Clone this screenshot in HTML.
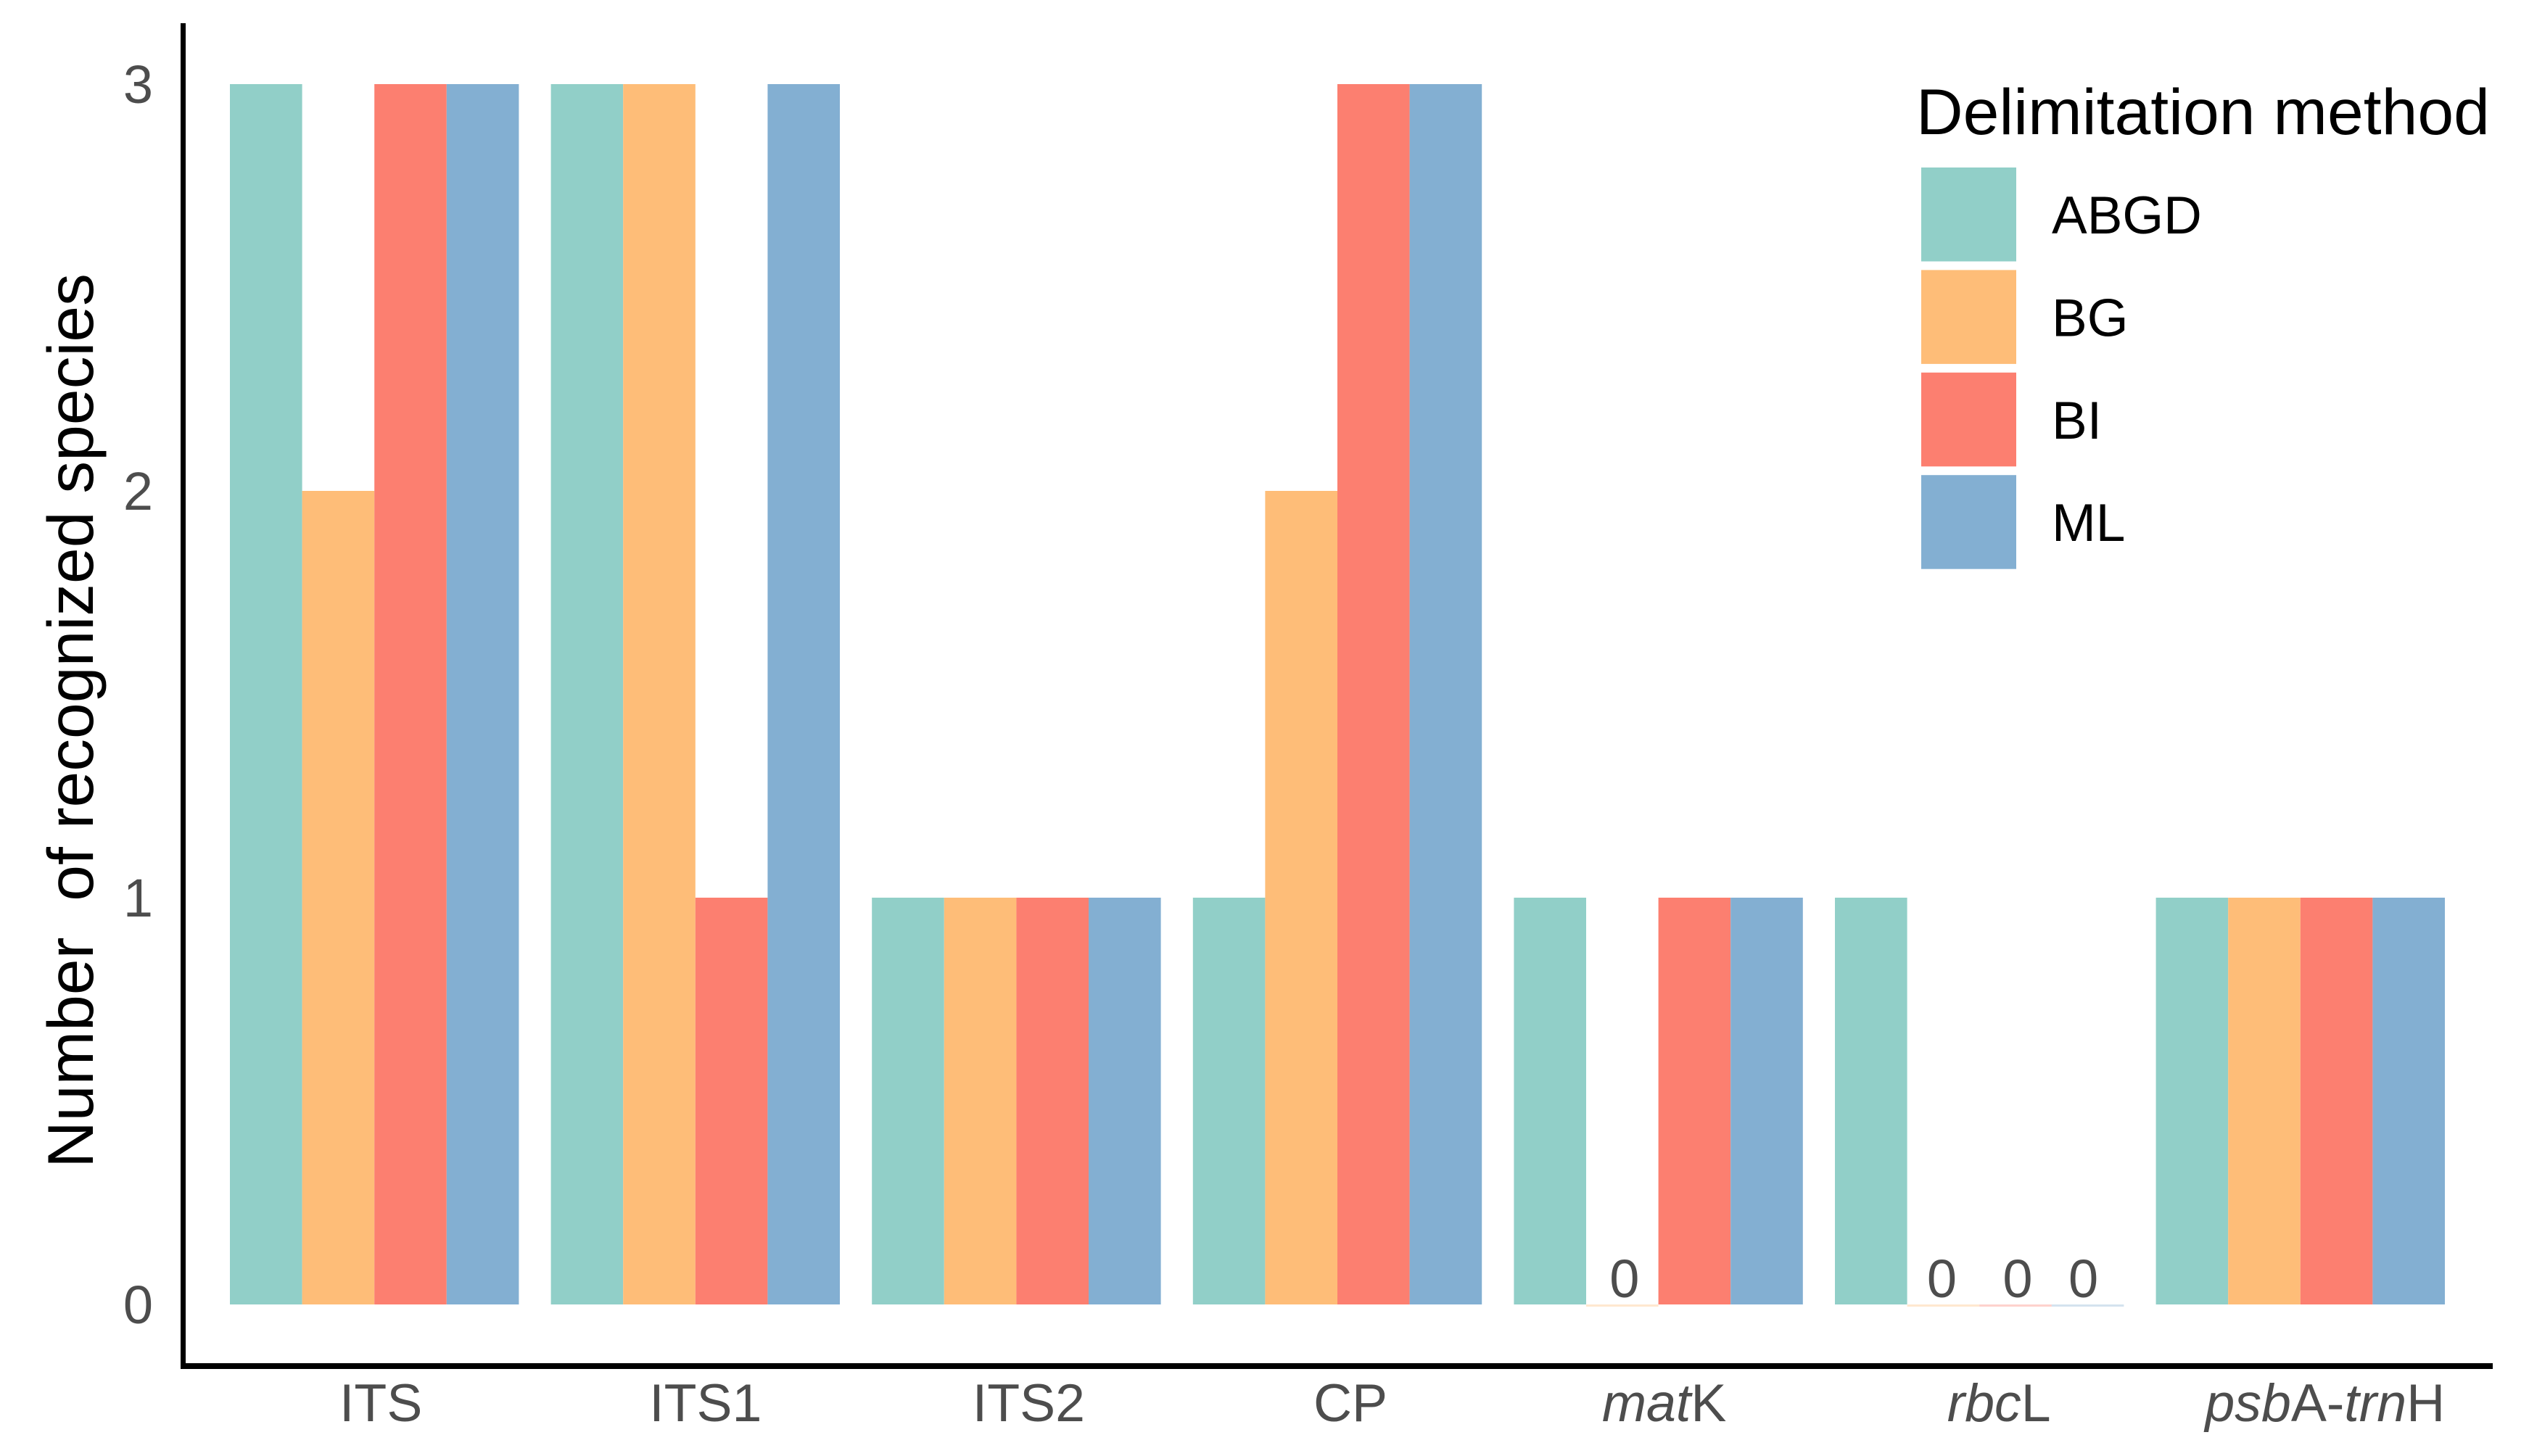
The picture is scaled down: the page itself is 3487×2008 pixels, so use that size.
<!DOCTYPE html>
<html lang="en">
<head>
<meta charset="utf-8">
<title>Number of recognized species by marker and delimitation method</title>
<style>
  html, body { margin: 0; padding: 0; background: #ffffff; }
  svg { display: block; font-family: "Liberation Sans", Arial, sans-serif; }
</style>
</head>
<body>
<svg id="chart" xmlns="http://www.w3.org/2000/svg" width="3487" height="2008" viewBox="0 0 3487 2008">
  <rect x="0" y="0" width="3487" height="2008" fill="#ffffff"/>
  <g id="bars"></g>
  <g id="zero-labels" font-size="74" fill="#4d4d4d" text-anchor="middle"></g>
  <rect x="249" y="32" width="7" height="1856" fill="#000000"/>
  <rect x="249" y="1880" width="3188" height="8" fill="#000000"/>
  <g id="y-ticks" font-size="74" fill="#4d4d4d" text-anchor="end"></g>
  <g id="x-ticks" font-size="73.5" fill="#4d4d4d" text-anchor="middle"></g>
  <text transform="translate(128 994) rotate(-90)" font-size="89.5" fill="#000000" text-anchor="middle" xml:space="preserve">Number  of recognized species</text>
  <g id="legend">
    <text x="2642" y="185" font-size="89.5" fill="#000000">Delimitation method</text>
  </g>
</svg>
<script>
const categories = ['ITS', 'ITS1', 'ITS2', 'CP', 'matK', 'rbcL', 'psbA-trnH'];
const seriesNames = ['ABGD', 'BG', 'BI', 'ML'];
const abgdValues = [3, 3, 1, 1, 1, 1, 1];
const bgValues = [2, 3, 1, 2, 0, 0, 1];
const biValues = [3, 1, 1, 3, 1, 0, 1];
const mlValues = [3, 3, 1, 3, 1, 0, 1];
const yTickLabels = [0, 1, 2, 3];

const seriesValues = [abgdValues, bgValues, biValues, mlValues];
const seriesColors = ['#91cfc8', '#febd78', '#fc7f70', '#83afd2'];
const NS = 'http://www.w3.org/2000/svg';

function yScale(v) {
  return 1799 - v * (1799 - 116) / 3;
}
function groupLeft(i) {
  return 317 + i * 442.6;
}
function barLeft(i, s) {
  return groupLeft(i) + s * 99.6;
}
function make(tag, attrs, parent) {
  const el = document.createElementNS(NS, tag);
  Object.keys(attrs).forEach(function (k) { el.setAttribute(k, attrs[k]); });
  parent.appendChild(el);
  return el;
}

const barsLayer = document.getElementById('bars');
const zeroLayer = document.getElementById('zero-labels');
const yTicksLayer = document.getElementById('y-ticks');
const xTicksLayer = document.getElementById('x-ticks');
const legendLayer = document.getElementById('legend');

function drawBars() {
  /* small hand-placed shifts of the zero labels seen in the reference */
  const zeroNudge = [3, -2, 3, -6];
  let zeroCount = 0;
  seriesValues.forEach(function (values, s) {
    values.forEach(function (v, i) {
      const x = barLeft(i, s);
      const top = yScale(v);
      if (v > 0) {
        const bar = make('rect', { x: x, y: top, width: 99.6, height: yScale(0) - top, fill: seriesColors[s] }, barsLayer);
        
        
      } else {
        const stub = make('rect', { x: x, y: yScale(0), width: 99.6, height: 3, fill: seriesColors[s], opacity: 0.35 }, barsLayer);
        
        
        const shift = zeroNudge[zeroCount % zeroNudge.length];
        zeroCount += 1;
        const label = make('text', { x: x + 49.8 + shift, y: yScale(0) - 10 }, zeroLayer);
        label.textContent = String(v);
        
        
      }
    });
  });
}

function drawYTicks() {
  yTickLabels.forEach(function (t) {
    const label = make('text', { x: 211, y: yScale(t) + 26 }, yTicksLayer);
    label.textContent = String(t);
    
    
  });
}

function drawXTicks() {
  /* hand-placed label offsets seen in the reference, relative to each group's centre */
  const nudge = [9, 14, 17, 18, 8, 27, 34];
  categories.forEach(function (name, i) {
    const label = make('text', { x: groupLeft(i) + 199.2 + nudge[i], y: 1960 }, xTicksLayer);
    name.split(/(mat|rbc|psb|trn)/).forEach(function (part) {
      if (!part) return;
      const span = make('tspan', {}, label);
      span.textContent = part;
      if (/^(mat|rbc|psb|trn)$/.test(part)) span.setAttribute('font-style', 'italic');
    });
    
    
  });
}

function drawLegend() {
  seriesNames.forEach(function (name, s) {
    const y = 231 + s * 141.4;
    const swatch = make('rect', { x: 2649, y: y, width: 131, height: 129.5, fill: seriesColors[s] }, legendLayer);
    
    
    const label = make('text', { x: 2829, y: y + 91, 'font-size': 73, fill: '#000000' }, legendLayer);
    label.textContent = name;
    
    
  });
}

drawBars();
drawYTicks();
drawXTicks();
drawLegend();
</script>
</body>
</html>
